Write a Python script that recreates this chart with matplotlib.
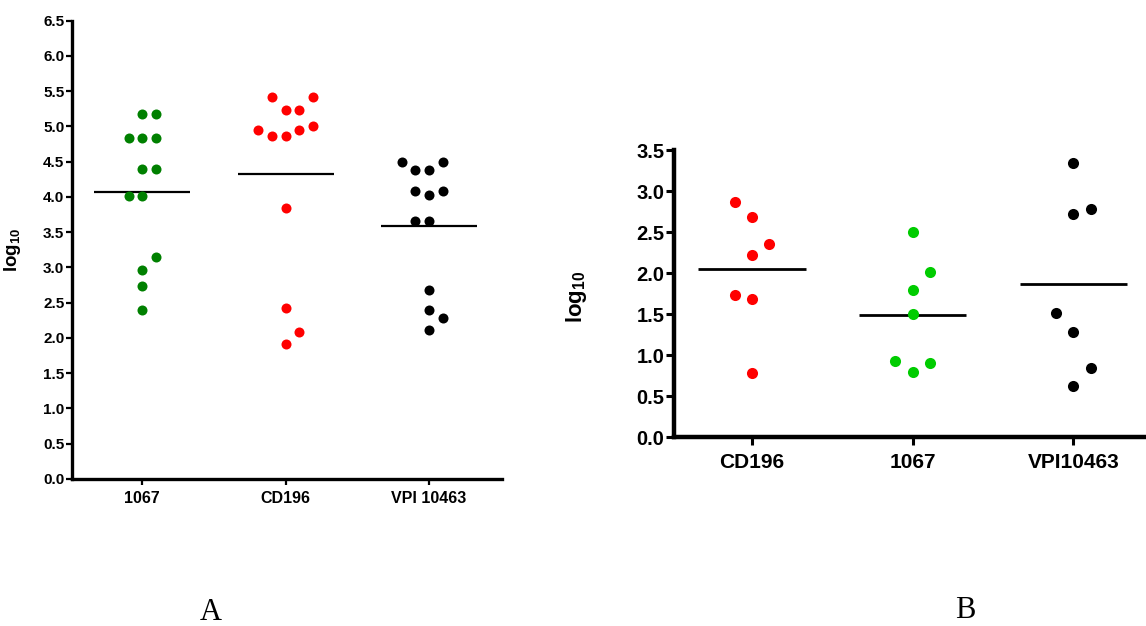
import numpy as np
import matplotlib
matplotlib.use("Agg")
import matplotlib.pyplot as plt
from matplotlib.ticker import MultipleLocator, FormatStrFormatter

plt.rcParams['font.family'] = ['Liberation Sans', 'DejaVu Sans']
plt.rcParams['font.weight'] = 'bold'
plt.rcParams['mathtext.fontset'] = 'custom'
plt.rcParams['mathtext.rm'] = 'Liberation Sans:bold'
plt.rcParams['mathtext.bf'] = 'Liberation Sans:bold'
plt.rcParams['mathtext.it'] = 'Liberation Sans:bold'

# ---- panel A data (log10) ----
strainsA = ['1067', 'CD196', 'VPI 10463']
a_1067 = [5.17, 5.17, 4.84, 4.84, 4.84, 4.39, 4.39, 4.02, 4.02, 3.15, 2.96, 2.74, 2.40]
a_cd196 = [5.42, 5.42, 5.24, 5.24, 5.01, 4.95, 4.95, 4.87, 4.87, 3.84, 2.42, 2.09, 1.92]
a_vpi = [4.49, 4.49, 4.38, 4.38, 4.08, 4.08, 4.03, 3.66, 3.66, 2.68, 2.40, 2.29, 2.11]
# column slot of each dot in the scatter (like the prism layout)
a_1067_slot = [0, 1, -1, 0, 1, 0, 1, -1, 0, 1, 0, 0, 0]
a_cd196_slot = [-1, 2, 0, 1, 2, -2, 1, -1, 0, 0, 0, 1, 0]
a_vpi_slot = [-2, 1, -1, 0, -1, 1, 0, -1, 0, 0, 0, 1, 0]

# ---- panel B data (log10) ----
strainsB = ['CD196', '1067', 'VPI10463']
b_cd196 = [2.87, 2.68, 2.36, 2.22, 1.73, 1.68, 0.78]
b_1067 = [2.50, 2.01, 1.80, 1.50, 0.93, 0.91, 0.79]
b_vpi = [3.34, 2.78, 2.72, 1.51, 1.28, 0.84, 0.62]
b_cd196_slot = [-1, 0, 1, 0, -1, 0, 0]
b_1067_slot = [0, 1, 0, 0, -1, 1, 0]
b_vpi_slot = [0, 1, 0, -1, 0, 1, 0]


def scatterPanel(ax, groups, slots, colors, step, msize, mlw):
    for i in range(len(groups)):
        x = i + 1 + np.array(slots[i]) * step
        ax.scatter(x, groups[i], s=msize, color=colors[i], linewidths=0, zorder=3)
        # mean line
        ax.hlines(np.mean(groups[i]), i + 1 - 0.335, i + 1 + 0.335, color='black', lw=mlw, zorder=2)


def styleAxes(ax, spineW, tickLen, tickW):
    for s in ['top', 'right']:
        ax.spines[s].set_visible(False)
    for s in ['left', 'bottom']:
        ax.spines[s].set_linewidth(spineW)
    ax.tick_params(direction='out', length=tickLen, width=tickW)


fig = plt.figure(figsize=(11.46, 6.26), dpi=100)

# panel A
axA = fig.add_axes([72 / 1146, (626 - 479) / 626, 430 / 1146, 458.3 / 626])
scatterPanel(axA, [a_1067, a_cd196, a_vpi], [a_1067_slot, a_cd196_slot, a_vpi_slot],
             ['#008000', '#ff0000', '#000000'], 0.0955, 52, 1.6)
axA.set_xlim(0.51, 3.51)
axA.set_ylim(0, 6.5)
axA.yaxis.set_major_locator(MultipleLocator(0.5))
axA.yaxis.set_major_formatter(FormatStrFormatter('%.1f'))
axA.set_xticks([1, 2, 3])
axA.set_xticklabels(strainsA, fontsize=11.5)
axA.tick_params(axis='y', labelsize=11, pad=1)
axA.tick_params(axis='x', pad=4)
styleAxes(axA, 2.4, 4.5, 1.6)
axA.set_ylabel(r'$\mathbf{log_{10}}$', fontsize=13.5)
axA.yaxis.set_label_coords(-0.115, 0.5)

# panel B
axB = fig.add_axes([674 / 1146, (626 - 437.3) / 626, 472 / 1146, 287.3 / 626])
scatterPanel(axB, [b_cd196, b_1067, b_vpi], [b_cd196_slot, b_1067_slot, b_vpi_slot],
             ['#ff0000', '#00cc00', '#000000'], 0.108, 64, 2.0)
axB.set_xlim(0.515, 3.452)
axB.set_ylim(0, 3.5)
axB.yaxis.set_major_locator(MultipleLocator(0.5))
axB.yaxis.set_major_formatter(FormatStrFormatter('%.1f'))
axB.set_xticks([1, 2, 3])
axB.set_xticklabels(strainsB, fontsize=15)
axB.tick_params(axis='y', labelsize=14.5, pad=1)
axB.tick_params(axis='x', pad=5)
styleAxes(axB, 3.2, 6, 2.2)
axB.set_ylabel(r'$\mathbf{log_{10}}$', fontsize=16)
axB.yaxis.set_label_coords(-0.18, 0.49)

fig.text(211 / 1146, 1 - 613 / 626, 'A', family='Liberation Serif', weight='normal',
         fontsize=22, ha='center', va='center')
fig.text(965 / 1146, 1 - 611 / 626, 'B', family='Liberation Serif', weight='normal',
         fontsize=22, ha='center', va='center')

fig.savefig('out.png', dpi=100)
